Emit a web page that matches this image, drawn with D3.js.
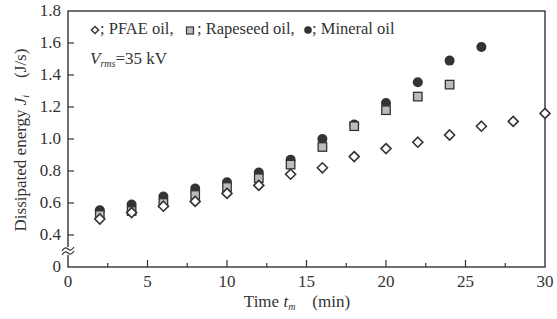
<!DOCTYPE html>
<html>
<head>
<meta charset="utf-8">
<script src="https://cdn.jsdelivr.net/npm/d3@7"></script>
<style>
  body { margin: 0; background: #fff; }
  svg text { font-family: "Liberation Serif", "DejaVu Serif", serif; fill: #333; }
</style>
</head>
<body>
<div id="chart"></div>
<script>
// Dissipated energy vs time for three oils
const timesPFAE = [2, 4, 6, 8, 10, 12, 14, 16, 18, 20, 22, 24, 26, 28, 30];
const pfae = [0.50, 0.54, 0.58, 0.61, 0.66, 0.71, 0.78, 0.82, 0.89, 0.94, 0.98, 1.025, 1.08, 1.11, 1.16];

const timesRapeseed = [2, 4, 6, 8, 10, 12, 14, 16, 18, 20, 22, 24];
const rapeseed = [0.525, 0.55, 0.60, 0.65, 0.70, 0.755, 0.84, 0.95, 1.08, 1.18, 1.265, 1.34];

const timesMineral = [2, 4, 6, 8, 10, 12, 14, 16, 18, 20, 22, 24, 26];
const mineral = [0.555, 0.59, 0.64, 0.69, 0.73, 0.79, 0.87, 1.0, 1.09, 1.225, 1.355, 1.49, 1.575];

const xTicks = [0, 5, 10, 15, 20, 25, 30];
const yTicks = [0.4, 0.6, 0.8, 1.0, 1.2, 1.4, 1.6, 1.8];

const width = 557, height = 319;
const margin = { top: 11, right: 12, bottom: 52, left: 68 };

const svg = d3.select('#chart').append('svg')
    .attr('width', width)
    .attr('height', height);

const x = d3.scaleLinear().domain([0, 30]).range([margin.left, width - margin.right]);
// broken axis: the bottom slot (0.2) is labelled 0
const y = d3.scaleLinear().domain([0.2, 1.8]).range([height - margin.bottom, margin.top]);

const ink = '#333';
const fs = 17;

// frame
svg.append('rect')
    .attr('x', x(0)).attr('y', y(1.8))
    .attr('width', x(30) - x(0)).attr('height', y(0.2) - y(1.8))
    .attr('fill', 'none').attr('stroke', ink).attr('stroke-width', 1.4);

// x axis ticks (inward, minor at half steps)
const xMinor = d3.range(2.5, 30, 5);
svg.append('g').selectAll('line.major')
    .data(xTicks.slice(1, -1)).enter().append('line')
    .attr('x1', d => x(d)).attr('x2', d => x(d))
    .attr('y1', y(0.2)).attr('y2', y(0.2) - 7)
    .attr('stroke', ink).attr('stroke-width', 1.2);
svg.append('g').selectAll('line.minor')
    .data(xMinor).enter().append('line')
    .attr('x1', d => x(d)).attr('x2', d => x(d))
    .attr('y1', y(0.2)).attr('y2', y(0.2) - 4)
    .attr('stroke', ink).attr('stroke-width', 1.2);
svg.append('g').selectAll('text')
    .data(xTicks).enter().append('text')
    .attr('x', d => x(d)).attr('y', y(0.2) + 20)
    .attr('text-anchor', 'middle')
    .attr('font-size', fs)
    .text(d => d);

// y axis ticks
svg.append('g').selectAll('line')
    .data(yTicks.slice(0, -1)).enter().append('line')
    .attr('x1', x(0)).attr('x2', x(0) + 6)
    .attr('y1', d => y(d)).attr('y2', d => y(d))
    .attr('stroke', ink).attr('stroke-width', 1.2);
svg.append('g').selectAll('text')
    .data(yTicks).enter().append('text')
    .attr('x', x(0) - 7).attr('y', d => y(d) + 5)
    .attr('text-anchor', 'end')
    .attr('font-size', fs)
    .text(d => d.toFixed(1));
svg.append('text')
    .attr('x', x(0) - 7).attr('y', y(0.2) + 5)
    .attr('text-anchor', 'end')
    .attr('font-size', fs)
    .text('0');

// axis break
const yb = y(0.3);
svg.append('rect')
    .attr('x', x(0) - 2).attr('y', yb - 4)
    .attr('width', 4).attr('height', 8)
    .attr('fill', '#fff');
[-2, 2].forEach(off => {
    svg.append('path')
        .attr('d', `M${x(0) - 6},${yb + off + 2} q3,-5 6,-2 q3,3 6,-2`)
        .attr('fill', 'none').attr('stroke', ink).attr('stroke-width', 1.1);
});

// markers
const diamond = (cx, cy, r) => `M${cx},${cy - r}L${cx + r},${cy}L${cx},${cy + r}L${cx - r},${cy}Z`;

function drawCircles(xs, ys, r) {
    svg.append('g').selectAll('circle')
        .data(xs).enter().append('circle')
        .attr('cx', d => x(d)).attr('cy', (d, i) => y(ys[i]))
        .attr('r', r).attr('fill', '#333');
}
function drawSquares(xs, ys, s) {
    svg.append('g').selectAll('rect')
        .data(xs).enter().append('rect')
        .attr('x', d => x(d) - s / 2).attr('y', (d, i) => y(ys[i]) - s / 2)
        .attr('width', s).attr('height', s)
        .attr('fill', '#bbb').attr('stroke', ink).attr('stroke-width', 1.3);
}
function drawDiamonds(xs, ys, r) {
    svg.append('g').selectAll('path')
        .data(xs).enter().append('path')
        .attr('d', (d, i) => diamond(x(d), y(ys[i]), r))
        .attr('fill', '#fff').attr('stroke', ink).attr('stroke-width', 1.6);
}

drawCircles(timesMineral, mineral, 5);
drawSquares(timesRapeseed, rapeseed, 8.5);
drawDiamonds(timesPFAE, pfae, 5);

// legend
const ly = 30;
svg.append('path').attr('d', diamond(95, ly, 3.6))
    .attr('fill', '#fff').attr('stroke', ink).attr('stroke-width', 1.4);
svg.append('text').attr('x', 100).attr('y', ly + 4).attr('font-size', 16.5).text('; PFAE oil,');
svg.append('rect').attr('x', 186.5).attr('y', ly - 3).attr('width', 7).attr('height', 7)
    .attr('fill', '#bbb').attr('stroke', ink).attr('stroke-width', 1.2);
svg.append('text').attr('x', 197).attr('y', ly + 4).attr('font-size', 16.5).text('; Rapeseed oil,');
svg.append('circle').attr('cx', 308).attr('cy', ly).attr('r', 3.8).attr('fill', '#333');
svg.append('text').attr('x', 312).attr('y', ly + 4).attr('font-size', 16.5).text('; Mineral oil');

// voltage note
const vt = svg.append('text').attr('x', 90).attr('y', 64).attr('font-size', fs);
vt.append('tspan').attr('font-style', 'italic').text('V');
vt.append('tspan').attr('font-style', 'italic').attr('font-size', 10).attr('dy', 3).text('rms');
vt.append('tspan').attr('dy', -3).text('=35 kV');

// axis titles
const xt = svg.append('text')
    .attr('x', 297).attr('y', 307)
    .attr('text-anchor', 'middle').attr('font-size', fs);
xt.append('tspan').text('Time ');
xt.append('tspan').attr('font-style', 'italic').text('t');
xt.append('tspan').attr('font-style', 'italic').attr('font-size', 10).attr('dy', 3).text('m');
xt.append('tspan').attr('dy', -3).text('\u2003(min)');

const yt = svg.append('text')
    .attr('transform', `translate(26,${140}) rotate(-90)`)
    .attr('text-anchor', 'middle').attr('font-size', fs);
yt.append('tspan').text('Dissipated energy ');
yt.append('tspan').attr('font-style', 'italic').text('J');
yt.append('tspan').attr('font-style', 'italic').attr('font-size', 10).attr('dy', 3).text('i');
yt.append('tspan').attr('dy', -3).text('\u2003(J/s)');
</script>
</body>
</html>
